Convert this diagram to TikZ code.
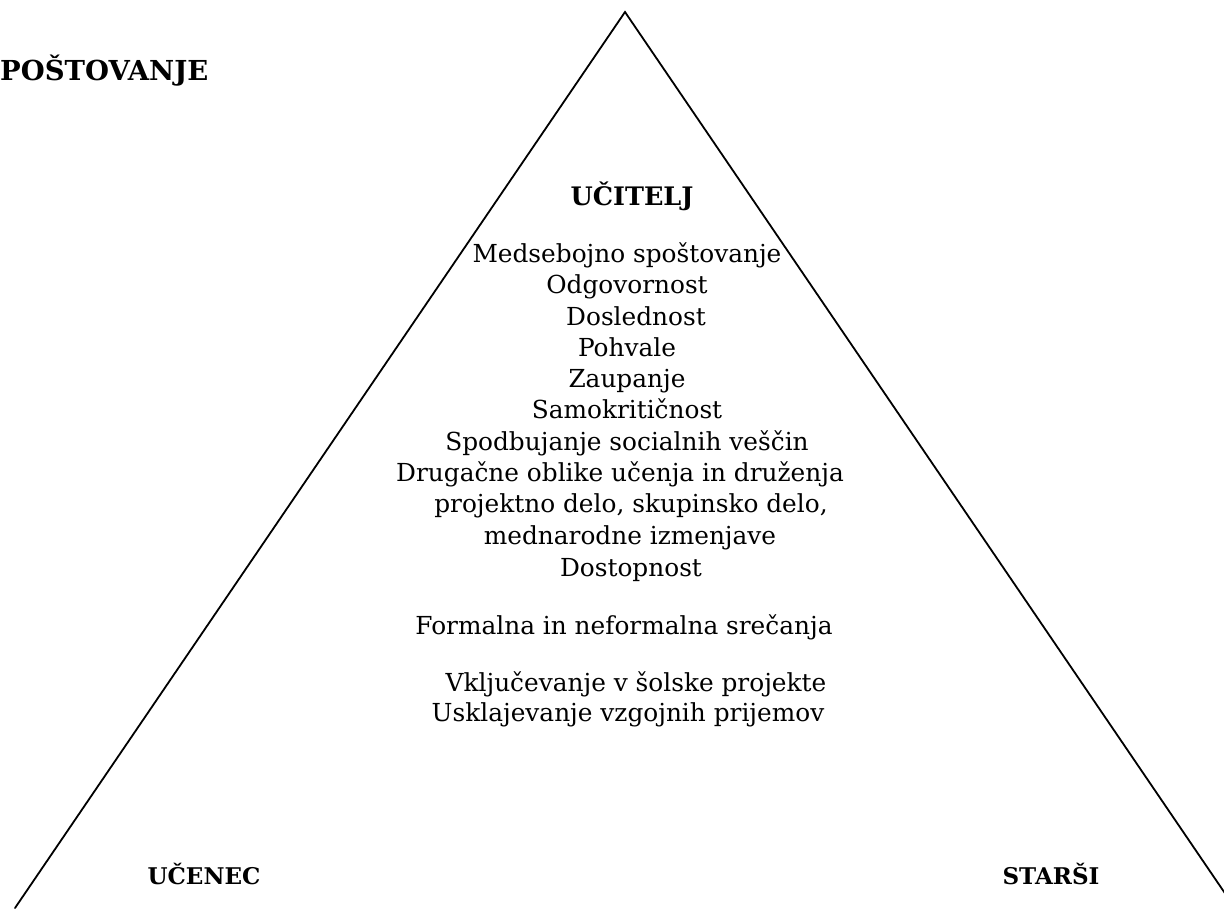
\documentclass[tikz,border=0pt]{standalone}
\usepackage{fontspec}
\setmainfont{DejaVu Serif}
\begin{document}
\begin{tikzpicture}[x=1pt,y=-1pt,
  item/.style={anchor=base,inner sep=0pt,font=\fontsize{24.8}{30}\selectfont},
  head/.style={anchor=base,inner sep=0pt,font=\fontsize{23}{28}\selectfont\bfseries},
  side/.style={line width=1.8pt,line cap=round}]
\useasboundingbox (0,0) rectangle (1224,908);
\coordinate (apex) at (625,12);
\coordinate (bl) at (15,908);
\coordinate (br) at (1235,908);
\draw[side] (bl) -- (apex) -- (br);
\node[head,anchor=base west,font=\fontsize{27.5}{32}\selectfont\bfseries] (spo) at (0,80) {POŠTOVANJE};
\node[head,font=\fontsize{25.5}{30}\selectfont\bfseries] (uci) at (632,205) {UČITELJ};
\node[head] (uce) at (204,884) {UČENEC};
\node[head] (sta) at (1051,884) {STARŠI};
\node[item] (l1) at (627,262) {Medsebojno spoštovanje};
\node[item] (l2) at (627,293) {Odgovornost};
\node[item] (l3) at (636,325) {Doslednost};
\node[item] (l4) at (627,356) {Pohvale};
\node[item] (l5) at (627,387) {Zaupanje};
\node[item] (l6) at (627,418) {Samokritičnost};
\node[item] (l7) at (627,450) {Spodbujanje socialnih veščin};
\node[item] (l8) at (620,481) {Drugačne oblike učenja in druženja};
\node[item] (l9) at (631,512) {projektno delo, skupinsko delo,};
\node[item] (l10) at (630,544) {mednarodne izmenjave};
\node[item] (l11) at (631,576) {Dostopnost};
\node[item] (l12) at (624,634) {Formalna in neformalna srečanja};
\node[item] (l13) at (636,691) {Vključevanje v šolske projekte};
\node[item] (l14) at (628,721) {Usklajevanje vzgojnih prijemov};
\end{tikzpicture}
\end{document}
